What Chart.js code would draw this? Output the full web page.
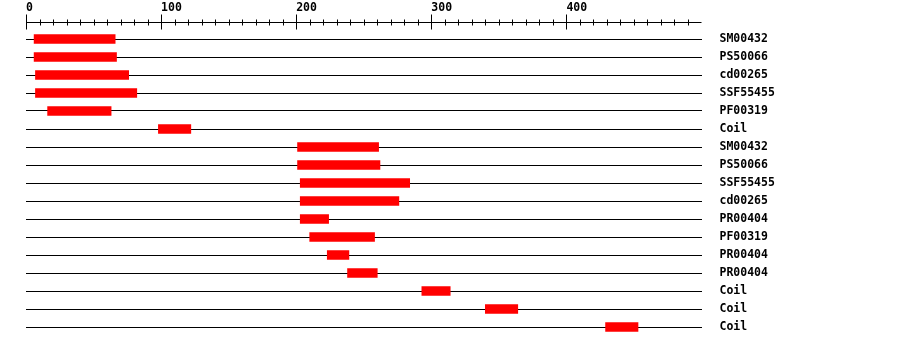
<!DOCTYPE html>
<html>
<head>
<meta charset="utf-8">
<script src="https://cdn.jsdelivr.net/npm/chart.js@4"></script>
<style>
  body { margin: 0; background: #fff; }
  #wrap { width: 900px; height: 346px; }
</style>
</head>
<body>
<div id="wrap"><canvas id="domains" width="900" height="346"></canvas></div>
<script>
// domain names, one per row (top to bottom)
const names = ['SM00432', 'PS50066', 'cd00265', 'SSF55455', 'PF00319', 'Coil',
  'SM00432', 'PS50066', 'SSF55455', 'cd00265', 'PR00404', 'PF00319',
  'PR00404', 'PR00404', 'Coil', 'Coil', 'Coil'];
// start / end position of each domain
const starts = [6, 6, 7, 7, 16, 98, 201, 201, 203, 203, 203, 210, 223, 238, 293, 340, 429];
const ends = [66, 67, 76, 82, 63, 122, 261, 262, 284, 276, 224, 258, 239, 260, 314, 364, 453];
// ruler
const axisMax = 500;
const minorStep = 10;
const majorStep = 100;

const FONT = { family: '"DejaVu Sans Mono", monospace', size: 11.5, weight: 'bold' };

// ruler line with ticks crossing it (drawn from the x scale)
const rulerPlugin = {
    id: 'ruler',
    afterDraw(chart) {
        const ctx = chart.ctx;
        const x = chart.scales.x;
        const y0 = x.bottom - 8 + 0.5;
        ctx.save();
        ctx.strokeStyle = '#000';
        ctx.lineWidth = 1;
        ctx.beginPath();
        ctx.moveTo(x.left, y0);
        ctx.lineTo(x.right, y0);
        x.ticks.forEach(t => {
            const px = Math.round(x.getPixelForValue(t.value)) + 0.5;
            if (t.value % majorStep === 0) {
                ctx.moveTo(px, y0 - 8);
                ctx.lineTo(px, y0 + 7);
            } else {
                ctx.moveTo(px, y0 - 3);
                ctx.lineTo(px, y0 + 3);
            }
        });
        ctx.stroke();
        ctx.restore();
    }
};

const rows = names.map((n, i) => ({ x: [starts[i], ends[i]], y: i }));

new Chart(document.getElementById('domains'), {
    type: 'bar',
    data: {
        datasets: [{
            data: rows,
            backgroundColor: '#ff0000',
            borderWidth: 0,
            borderSkipped: false,
            barThickness: 9
        }]
    },
    options: {
        indexAxis: 'y',
        responsive: false,
        animation: false,
        devicePixelRatio: 1,
        layout: { padding: { left: 26, right: 0, top: 0, bottom: 1 } },
        scales: {
            x: {
                type: 'linear',
                position: 'top',
                min: 0,
                max: axisMax,
                grid: { display: false, drawTicks: false },
                border: { display: false },
                afterBuildTicks(scale) {
                    const t = [];
                    for (let v = 0; v < axisMax; v += minorStep) t.push({ value: v });
                    scale.ticks = t;
                },
                afterFit(scale) {
                    scale.height = 30;
                    scale.paddingLeft = 0;
                    scale.paddingRight = 0;
                },
                ticks: {
                    autoSkip: false,
                    maxRotation: 0,
                    align: 'start',
                    padding: 15,
                    color: '#000',
                    font: FONT,
                    callback: v => (v % majorStep === 0 ? String(v) : '')
                }
            },
            y: {
                type: 'linear',
                position: 'right',
                reverse: true,
                offset: false,
                min: -0.5,
                max: names.length,
                border: { display: false },
                grid: { color: '#000', lineWidth: 1, drawTicks: false, offset: false },
                afterBuildTicks(scale) {
                    scale.ticks = names.map((n, i) => ({ value: i }));
                },
                afterFit(scale) {
                    // labels sit on the lines, no extra room above/below
                    scale.width = 198.5;
                    scale.paddingTop = 0;
                    scale.paddingBottom = 0;
                },
                ticks: {
                    padding: 18,
                    color: '#000',
                    font: FONT,
                    callback: v => names[v]
                }
            }
        },
        plugins: {
            legend: { display: false },
            tooltip: { enabled: false }
        }
    },
    plugins: [rulerPlugin]
});
</script>
</body>
</html>
